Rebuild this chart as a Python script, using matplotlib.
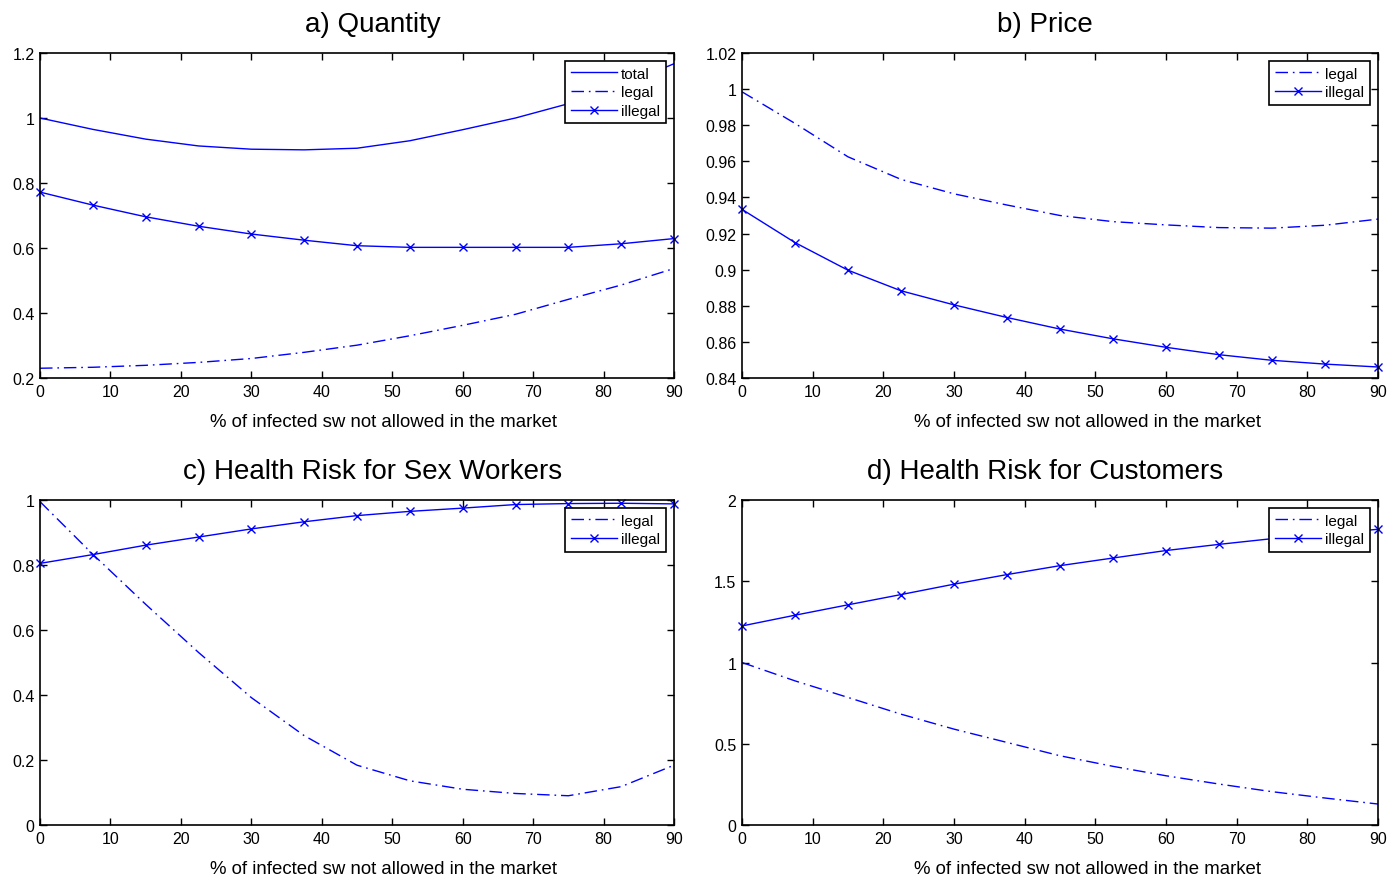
import matplotlib
matplotlib.use("Agg")
import matplotlib.pyplot as plt

plt.rcParams['font.family'] = ['Liberation Sans', 'DejaVu Sans']

x = [0, 7.5, 15, 22.5, 30, 37.5, 45, 52.5, 60, 67.5, 75, 82.5, 90]

qty_total = [1.000, 0.965, 0.935, 0.914, 0.904, 0.902, 0.907, 0.930, 0.964, 1.000, 1.044, 1.099, 1.167]
qty_legal = [0.230, 0.233, 0.239, 0.248, 0.260, 0.279, 0.301, 0.330, 0.362, 0.396, 0.442, 0.486, 0.537]
qty_illegal = [0.772, 0.732, 0.696, 0.667, 0.643, 0.624, 0.607, 0.602, 0.602, 0.602, 0.602, 0.613, 0.629]

price_legal = [0.9985, 0.981, 0.9625, 0.950, 0.942, 0.9358, 0.930, 0.9266, 0.9248, 0.9233, 0.923, 0.9246, 0.928]
price_illegal = [0.9334, 0.915, 0.8997, 0.8883, 0.8805, 0.8735, 0.8671, 0.8617, 0.857, 0.8529, 0.8498, 0.8477, 0.8461]

sw_legal = [0.995, 0.833, 0.679, 0.531, 0.392, 0.275, 0.184, 0.136, 0.110, 0.097, 0.090, 0.118, 0.184]
sw_illegal = [0.805, 0.832, 0.861, 0.886, 0.911, 0.933, 0.952, 0.965, 0.975, 0.986, 0.989, 0.990, 0.988]

cu_legal = [1.000, 0.887, 0.785, 0.682, 0.590, 0.508, 0.426, 0.361, 0.303, 0.252, 0.205, 0.166, 0.129]
cu_illegal = [1.225, 1.291, 1.355, 1.418, 1.482, 1.541, 1.596, 1.643, 1.689, 1.727, 1.762, 1.789, 1.820]

titles = ["a) Quantity", "b) Price", "c) Health Risk for Sex Workers", "d) Health Risk for Customers"]
xlabel = "% of infected sw not allowed in the market"
xticks = [0, 10, 20, 30, 40, 50, 60, 70, 80, 90]

BLUE = '#0000ff'
DASHDOT = (0, (9, 3.5, 1.2, 3.5))

W, H = 1400, 879
fig = plt.figure(figsize=(W / 100, H / 100), dpi=100)

def ax_at(l, r, t, b):
    return fig.add_axes([l / W, 1 - b / H, (r - l) / W, (b - t) / H])

axA = ax_at(40, 674, 54, 379)
axB = ax_at(742, 1378, 54, 379)
axC = ax_at(40, 674, 501, 826)
axD = ax_at(742, 1378, 501, 826)

def style(ax, title, ylim, yticks, title_x):
    ax.set_xlim(0, 90)
    ax.set_ylim(*ylim)
    ax.set_xticks(xticks)
    ax.set_yticks(yticks)
    ax.set_yticklabels([('%.2f' % v).rstrip('0').rstrip('.') for v in yticks])
    ax.tick_params(direction='in', top=True, right=True, length=5, width=1,
                   labelsize=11.5, pad=4)
    for s in ax.spines.values():
        s.set_linewidth(1.2)
    ax.set_title(title, fontsize=20, pad=16, x=title_x)
    ax.set_xlabel(xlabel, fontsize=13.4, labelpad=10.5)
    ax.xaxis.label.set_x(0.5425)

leg_kw = dict(loc='upper right', fontsize=11, frameon=True, fancybox=False,
              framealpha=1, edgecolor='black', borderaxespad=0.55,
              handlelength=3.0, handletextpad=0.3, labelspacing=0.3,
              borderpad=0.35, numpoints=1)

def legend(ax):
    leg = ax.legend(**leg_kw)
    leg.get_frame().set_linewidth(1.2)

# a)
axA.plot(x, qty_total, color=BLUE, lw=1, label='total')
axA.plot(x, qty_legal, color=BLUE, lw=1, linestyle=DASHDOT, label='legal')
axA.plot(x, qty_illegal, color=BLUE, lw=1, marker='x', ms=6, mew=1, label='illegal', clip_on=False)
style(axA, titles[0], (0.2, 1.2), [0.2, 0.4, 0.6, 0.8, 1.0, 1.2], 0.525)
legend(axA)

# b)
axB.plot(x, price_legal, color=BLUE, lw=1, linestyle=DASHDOT, label='legal')
axB.plot(x, price_illegal, color=BLUE, lw=1, marker='x', ms=6, mew=1, label='illegal', clip_on=False)
style(axB, titles[1], (0.84, 1.02), [0.84, 0.86, 0.88, 0.9, 0.92, 0.94, 0.96, 0.98, 1.0, 1.02], 0.476)
legend(axB)

# c)
axC.plot(x, sw_legal, color=BLUE, lw=1, linestyle=DASHDOT, label='legal')
axC.plot(x, sw_illegal, color=BLUE, lw=1, marker='x', ms=6, mew=1, label='illegal', clip_on=False)
style(axC, titles[2], (0, 1), [0, 0.2, 0.4, 0.6, 0.8, 1.0], 0.525)
legend(axC)

# d)
axD.plot(x, cu_legal, color=BLUE, lw=1, linestyle=DASHDOT, label='legal')
axD.plot(x, cu_illegal, color=BLUE, lw=1, marker='x', ms=6, mew=1, label='illegal', clip_on=False)
style(axD, titles[3], (0, 2), [0, 0.5, 1.0, 1.5, 2.0], 0.476)
legend(axD)

fig.savefig('out.png', dpi=100)
